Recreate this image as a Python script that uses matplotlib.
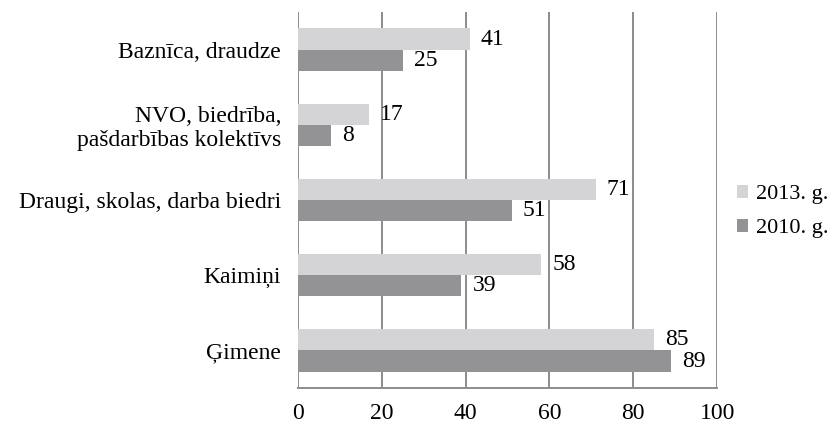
import numpy as np
import matplotlib.pyplot as plt
from matplotlib.patches import Patch

plt.rcParams["font.family"] = ["Liberation Serif", "DejaVu Serif"]

# -- Data -------------------------------------------------------
categories = [
    "Ģimene",
    "Kaimiņi",
    "Draugi, skolas, darba biedri",
    "NVO, biedrība,\npašdarbības kolektīvs",
    "Baznīca, draudze",
]
values_2013 = [85, 58, 71, 17, 41]
values_2010 = [89, 39, 51, 8, 25]
series_labels = ["2013. g.", "2010. g."]
xticks = [0, 20, 40, 60, 80, 100]

LIGHT = "#d4d4d6"
DARK = "#939395"
GRID = "#8c8c8c"
FS = 17

fig = plt.figure(figsize=(8.32, 4.26), dpi=100)
ax = fig.add_axes([0.358, 0.089, 0.504, 0.883])

y = np.arange(len(categories))
h = 0.28
b13 = ax.barh(y + h / 2, values_2013, height=h, color=LIGHT, zorder=2)
b10 = ax.barh(y - h / 2, values_2010, height=h, color=DARK, zorder=2)

for bars in (b13, b10):
    ax.bar_label(bars, padding=8, fontsize=FS)

ax.set_xlim(0, 100)
ax.set_ylim(-0.5, len(categories) - 0.5)
ax.set_xticks(xticks)
ax.set_yticks(y)
ax.set_yticklabels(categories, fontsize=FS, multialignment="right")
ax.tick_params(axis="x", labelsize=FS, length=0, pad=11)
ax.tick_params(axis="y", length=0, pad=12)

for side in ("top", "right", "left"):
    ax.spines[side].set_visible(False)
ax.spines["bottom"].set_color(GRID)
ax.spines["bottom"].set_linewidth(1.4)
ax.grid(axis="x", color=GRID, linewidth=1.4, zorder=1)
ax.set_axisbelow(True)

handles = [Patch(facecolor=LIGHT), Patch(facecolor=DARK)]
fig.legend(handles, series_labels, loc="center left", bbox_to_anchor=(0.886, 0.503),
           frameon=False, fontsize=16, borderpad=0, borderaxespad=0,
           handlelength=0.5, handleheight=0.5, handletextpad=0.35,
           labelspacing=0.65)

fig.savefig("out.png", dpi=100)
